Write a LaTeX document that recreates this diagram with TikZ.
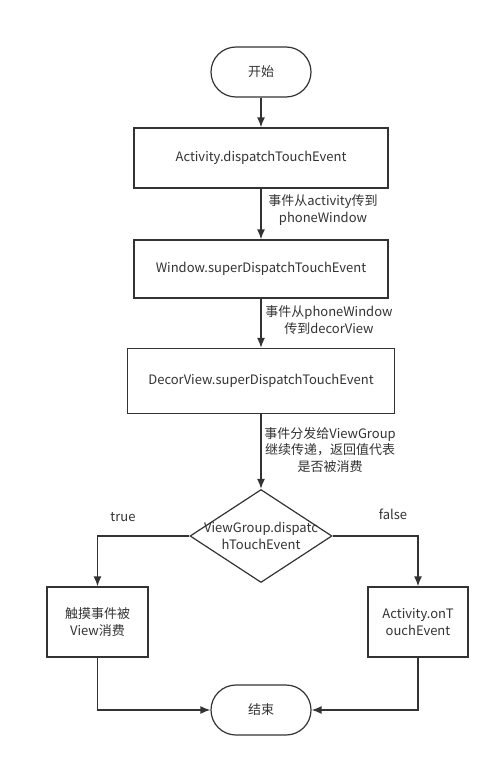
\documentclass[tikz,border=0pt]{standalone}
\usepackage{fontspec}
\setmainfont{Noto Sans CJK SC}
\usetikzlibrary{shapes.geometric}
\usetikzlibrary{shapes.misc}
\usetikzlibrary{arrows.meta}
\definecolor{inkgray}{HTML}{333333}

\begin{document}
\begin{tikzpicture}[
    x=1pt, y=-1pt,
    every node/.style={text=inkgray},
    step box/.style={
        rectangle,
        draw=inkgray, line width=1.2pt, fill=white,
        align=center, inner sep=0pt,
        font=\fontsize{13}{16.5}\selectfont
    },
    terminal/.style={
        rounded rectangle,
        draw=inkgray, line width=1.2pt, fill=white,
        minimum width=100pt, minimum height=50pt,
        inner sep=0pt,
        font=\fontsize{13}{16.5}\selectfont
    },
    decision/.style={
        diamond, aspect=1.53,
        draw=inkgray, line width=1.2pt, fill=white,
        inner sep=0pt,
        minimum width=142pt, minimum height=93pt
    },
    note/.style={
        align=center, inner sep=0pt,
        font=\fontsize{13}{16.5}\selectfont
    },
    flow/.style={
        draw=inkgray, line width=1.5pt,
        -{Latex[length=10pt,width=8pt]}
    }
]
\useasboundingbox[fill=white] (0,0) rectangle (500,767);

\node[terminal] (start) at (261,72) {开始};
\node[step box, minimum width=254pt, minimum height=60pt] (activity) at (261,158) {Activity.dispatchTouchEvent};
\node[step box, minimum width=254pt, minimum height=58pt] (window) at (261,269) {Window.superDispatchTouchEvent};
\node[step box, minimum width=267pt, minimum height=65pt] (decor) at (261,381) {DecorView.superDispatchTouchEvent};
\node[decision, label={[note]center:ViewGroup.dispatc\\hTouchEvent}] (group) at (261,536) {};
\node[step box, minimum width=101pt, minimum height=70pt] (consumed) at (97.5,622) {触摸事件被\\View消费};
\node[step box, minimum width=100pt, minimum height=70pt] (ontouch) at (418,622) {Activity.onT\\ouchEvent};
\node[terminal] (finish) at (261,710) {结束};

% labels on the connectors
\node[note] (l1) at (323,210) {事件从activity传到\\phoneWindow};
\node[note] (l2) at (329,320) {事件从phoneWindow\\传到decorView};
\node[note] (l3) at (330,450) {事件分发给ViewGroup\\继续传递，返回值代表\\是否被消费};
\node[note] (ltrue) at (123,517) {true};
\node[note] (lfalse) at (393,514) {false};

\draw[flow] (start.south) -- (activity.north);
\draw[flow] (activity.south) -- (window.north);
\draw[flow] (window.south) -- (decor.north);
\draw[flow] (decor.south) -- (group.north);

\draw[flow] (group.west) -| (consumed.north);
\draw[flow] (group.east) -| (ontouch.north);

\draw[flow] (consumed.south) |- (finish.west);
\draw[flow] (ontouch.south) |- (finish.east);
\end{tikzpicture}
\end{document}
